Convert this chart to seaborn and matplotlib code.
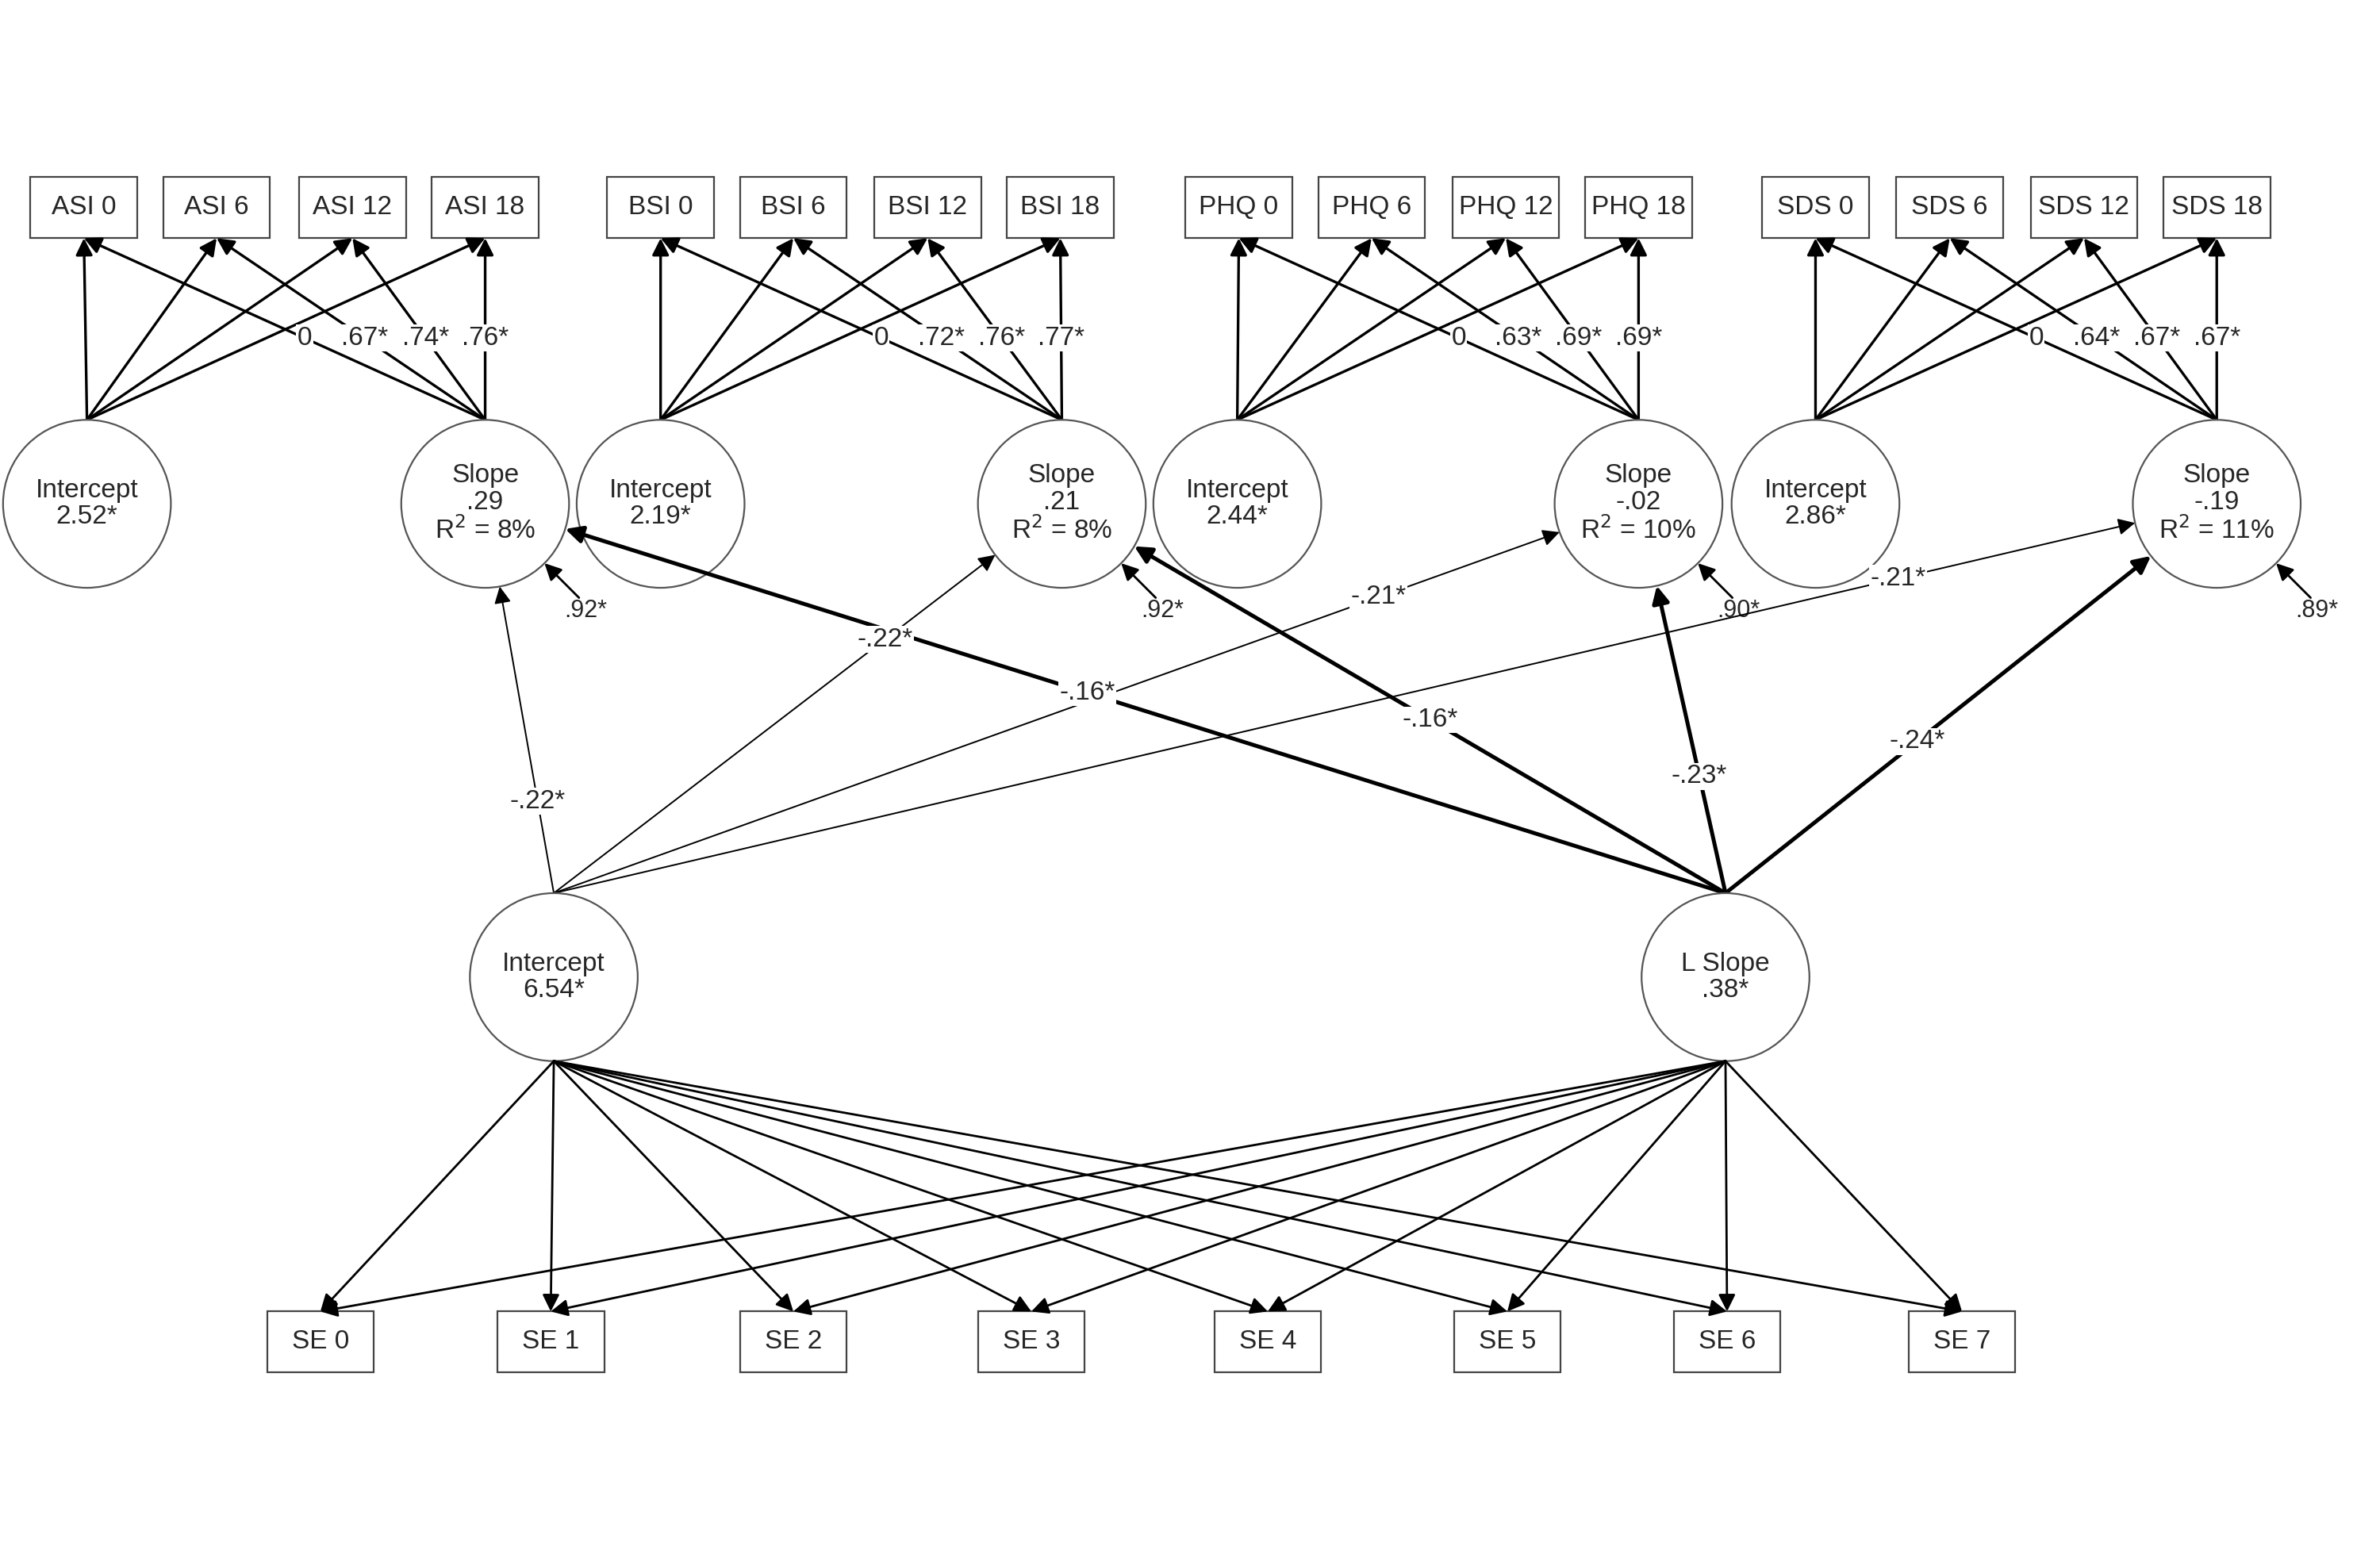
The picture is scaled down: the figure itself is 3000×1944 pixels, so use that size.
import numpy as np
import matplotlib.pyplot as plt
import seaborn as sns
from matplotlib.patches import Circle, Rectangle

sns.set_style("white")
plt.rcParams["font.family"] = ["Liberation Sans", "DejaVu Sans"]

# Data
groups = ["ASI", "BSI", "PHQ", "SDS"]
waves = ["0", "6", "12", "18"]
intercept_means = ["2.52*", "2.19*", "2.44*", "2.86*"]
slope_means = [".29", ".21", "-.02", "-.19"]
slope_r2 = ["8%", "8%", "10%", "11%"]
loadings = [["0", ".67*", ".74*", ".76*"],
            ["0", ".72*", ".76*", ".77*"],
            ["0", ".63*", ".69*", ".69*"],
            ["0", ".64*", ".67*", ".67*"]]
residuals = [".92*", ".92*", ".90*", ".89*"]
int_paths = ["-.22*", "-.22*", "-.21*", "-.21*"]
lslope_paths = ["-.16*", "-.16*", "-.23*", "-.24*"]
se_labels = ["SE 0", "SE 1", "SE 2", "SE 3", "SE 4", "SE 5", "SE 6", "SE 7"]
low_int = "6.54*"
low_slope = ".38*"

# Layout
box_x = [[55, 142, 231, 318], [433, 520, 608, 695], [812, 899, 987, 1074], [1190, 1278, 1366, 1453]]
int_x = [57, 433, 811, 1190]
slp_x = [318, 696, 1074, 1453]
box_y, circ_y, R = 136, 330, 55
bw, bh = 70, 40
li_c, ls_c = (363, 640), (1131, 640)
se_x = [210, 361, 520, 676, 831, 988, 1132, 1286]
se_y = 879

fig = plt.figure(figsize=(15, 9.72), dpi=200)
ax = fig.add_axes([0, 0, 1, 1])
ax.set_xlim(0, 1560)
ax.set_ylim(1010, 0)
ax.axis("off")
FS = 12


def arrow(s, e, lw=1.2):
    ax.annotate("", xy=e, xytext=s,
                arrowprops=dict(arrowstyle="-|>", lw=lw, color="black",
                                mutation_scale=16, shrinkA=0, shrinkB=0))


def box(x, y, txt):
    ax.add_patch(Rectangle((x - bw / 2, y - bh / 2), bw, bh, fc="white", ec="#444", lw=0.8, zorder=3))
    ax.text(x, y, txt, ha="center", va="center", fontsize=FS, zorder=4)


def circ(c, txt):
    ax.add_patch(Circle(c, R, fc="white", ec="#555", lw=0.8, zorder=3))
    ax.text(c[0], c[1], txt, ha="center", va="center", fontsize=FS, linespacing=1.1, zorder=4)


def edge(c, toward):
    d = np.array(toward, float) - np.array(c, float)
    return np.array(c) + R * d / np.linalg.norm(d)


for g in range(4):
    for w in range(4):
        box(box_x[g][w], box_y, f"{groups[g]} {waves[w]}")
        arrow((int_x[g], circ_y - R), (box_x[g][w], box_y + bh / 2))
        s = np.array([slp_x[g], circ_y - R])
        e = np.array([box_x[g][w], box_y + bh / 2])
        arrow(s, e)
        p = s + 0.45 * (e - s)
        ax.text(p[0], p[1], loadings[g][w], ha="center", va="center", fontsize=FS, zorder=5,
                bbox=dict(fc="white", ec="none", pad=0.5))
    circ((int_x[g], circ_y), f"Intercept\n{intercept_means[g]}")
    circ((slp_x[g], circ_y), f"Slope\n{slope_means[g]}\nR$^2$ = {slope_r2[g]}")
    # residual
    d = np.array([np.cos(np.pi / 4), np.sin(np.pi / 4)])
    c = np.array([slp_x[g], circ_y])
    arrow(c + (R + 32) * d, c + R * d, lw=1.0)
    ax.text(c[0] + (R + 38) * d[0], c[1] + (R + 44) * d[1], residuals[g], ha="center", va="center", fontsize=FS - 1)

# paths from growth factors of SE
li_top = (li_c[0], li_c[1] - R)
ls_top = (ls_c[0], ls_c[1] - R)
int_t = [0.3, 0.75, 0.82, 0.85]
ls_t = [0.55, 0.5, 0.38, 0.45]
for g in range(4):
    c = (slp_x[g], circ_y)
    e1 = edge(c, li_top)
    arrow(li_top, e1, lw=0.7)
    p = np.array(li_top) + int_t[g] * (e1 - np.array(li_top))
    ax.text(p[0], p[1], int_paths[g], ha="center", va="center", fontsize=FS, zorder=5,
            bbox=dict(fc="white", ec="none", pad=0.5))
    e2 = edge(c, ls_top)
    arrow(ls_top, e2, lw=1.8)
    p = np.array(ls_top) + ls_t[g] * (e2 - np.array(ls_top))
    ax.text(p[0], p[1], lslope_paths[g], ha="center", va="center", fontsize=FS, zorder=5,
            bbox=dict(fc="white", ec="none", pad=0.5))

circ(li_c, f"Intercept\n{low_int}")
circ(ls_c, f"L Slope\n{low_slope}")

for x, lab in zip(se_x, se_labels):
    box(x, se_y, lab)
    arrow((li_c[0], li_c[1] + R), (x, se_y - bh / 2), lw=1.0)
    arrow((ls_c[0], ls_c[1] + R), (x, se_y - bh / 2), lw=1.0)

fig.savefig("out.png", dpi=200, facecolor="white")
